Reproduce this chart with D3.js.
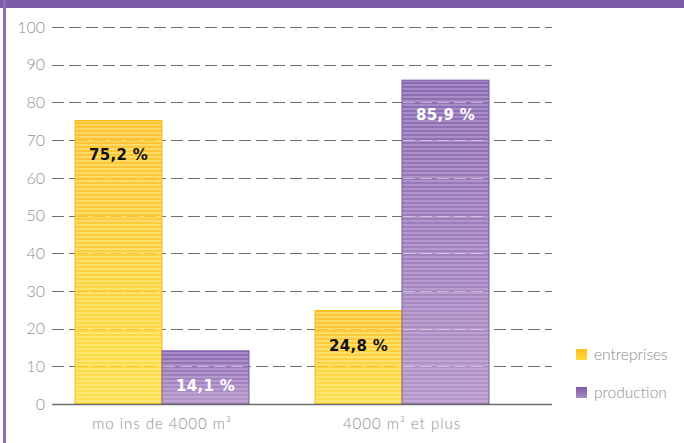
<!DOCTYPE html>
<html>
<head>
<meta charset="utf-8">
<script src="https://cdn.jsdelivr.net/npm/d3@7"></script>
<style>
  body { margin: 0; background: #fff; }
  svg { display: block; }
</style>
</head>
<body>
<div class="container"></div>
<script>
// data
const categories = ["mo ins de 4000 m³", "4000 m³ et plus"];
const seriesNames = ["entreprises", "production"];
const entreprises = [75.2, 24.8];
const production = [14.1, 85.9];
const valueLabels = [["75,2 %", "14,1 %"], ["24,8 %", "85,9 %"]];
const yTicks = [0, 10, 20, 30, 40, 50, 60, 70, 80, 90, 100];

const svgWidth = 684, svgHeight = 443;

const svg = d3.select(".container")
    .append("svg")
    .attr("width", svgWidth)
    .attr("height", svgHeight);

const defs = svg.append("defs");

// gradients + stripes for the bars
function stripeFill(id, topColor, bottomColor, stripeColor, stripeOpacity) {
    const g = defs.append("linearGradient")
        .attr("id", id + "-grad")
        .attr("x1", 0).attr("y1", 0).attr("x2", 0).attr("y2", 1);
    g.append("stop").attr("offset", "0%").attr("stop-color", topColor);
    g.append("stop").attr("offset", "100%").attr("stop-color", bottomColor);

    const p = defs.append("pattern")
        .attr("id", id + "-stripe")
        .attr("patternUnits", "userSpaceOnUse")
        .attr("width", 8).attr("height", 4);
    p.append("rect")
        .attr("width", 8).attr("height", 2)
        .attr("fill", stripeColor)
        .attr("opacity", stripeOpacity);
}
stripeFill("yel", "#fcc232", "#ffe04a", "#fff2a8", 0.45);
stripeFill("pur", "#8a6ab2", "#b596c8", "#d9c8e6", 0.35);

// legend gradients
function legendGrad(id, c1, c2) {
    const g = defs.append("linearGradient")
        .attr("id", id)
        .attr("x1", 0).attr("y1", 0).attr("x2", 0).attr("y2", 1);
    g.append("stop").attr("offset", "0%").attr("stop-color", c1);
    g.append("stop").attr("offset", "100%").attr("stop-color", c2);
}
legendGrad("leg0", "#fcbf20", "#ffd93a");
legendGrad("leg1", "#7e5ca9", "#a98cc3");

// frame
svg.append("rect")
    .attr("x", 0).attr("y", 0)
    .attr("width", svgWidth).attr("height", 8)
    .attr("fill", "#7b5aa6");
svg.append("rect")
    .attr("x", 3).attr("y", 0)
    .attr("width", 3).attr("height", svgHeight)
    .attr("fill", "#8c6cb4");

// scales
const y = d3.scaleLinear()
    .domain([0, 100])
    .range([404, 27]);

const x0 = d3.scaleBand()
    .domain(categories)
    .range([42, 522])
    .padding(0);

const x1 = d3.scaleBand()
    .domain(seriesNames)
    .range([33, 207])
    .padding(0);

const gridLeft = 52, gridRight = 552;

// gridlines (under the bars)
svg.append("g")
    .selectAll("line")
    .data(yTicks.filter(d => d > 0))
    .enter()
    .append("line")
    .attr("x1", gridLeft)
    .attr("x2", gridRight)
    .attr("y1", d => Math.round(y(d)) + 0.5)
    .attr("y2", d => Math.round(y(d)) + 0.5)
    .attr("stroke", "#6d6d6d")
    .attr("stroke-width", 1)
    .attr("stroke-dasharray", "12,5");

// y tick labels
svg.append("g")
    .selectAll("text")
    .data(yTicks)
    .enter()
    .append("text")
    .attr("x", 45)
    .attr("y", d => y(d))
    .attr("dy", "0.36em")
    .attr("text-anchor", "end")
    .attr("font-family", "Lato, 'DejaVu Sans', sans-serif")
    .attr("font-weight", 300)
    .attr("font-size", 16)
    .attr("fill", "#929292")
    .text(d => d);

// bars
const rows = categories.map((c, i) => ({
    cat: c,
    vals: [
        { key: "entreprises", v: entreprises[i], label: valueLabels[i][0] },
        { key: "production", v: production[i], label: valueLabels[i][1] }
    ]
}));

const groups = svg.append("g")
    .selectAll("g")
    .data(rows)
    .enter()
    .append("g")
    .attr("transform", d => `translate(${x0(d.cat)},0)`);

const fillId = { entreprises: "yel", production: "pur" };
const strokeCol = { entreprises: "#f7b912", production: "#7a5aa8" };
const labelCol = { entreprises: "#111", production: "#fff" };

groups.selectAll("rect.base")
    .data(d => d.vals)
    .enter()
    .append("rect")
    .attr("class", "base")
    .attr("x", d => x1(d.key))
    .attr("y", d => y(d.v))
    .attr("width", x1.bandwidth())
    .attr("height", d => y(0) - y(d.v))
    .attr("fill", d => `url(#${fillId[d.key]}-grad)`);

groups.selectAll("rect.stripe")
    .data(d => d.vals)
    .enter()
    .append("rect")
    .attr("class", "stripe")
    .attr("x", d => x1(d.key))
    .attr("y", d => y(d.v))
    .attr("width", x1.bandwidth())
    .attr("height", d => y(0) - y(d.v))
    .attr("fill", d => `url(#${fillId[d.key]}-stripe)`)
    .attr("stroke", d => strokeCol[d.key])
    .attr("stroke-width", 1);

// faint gridlines showing through the bars
groups.each(function(row) {
    const g = d3.select(this);
    row.vals.forEach(d => {
        g.selectAll(null)
            .data(yTicks.filter(t => t > 0 && t < d.v))
            .enter()
            .append("line")
            .attr("x1", x1(d.key) + 1)
            .attr("x2", x1(d.key) + x1.bandwidth() - 1)
            .attr("y1", t => Math.round(y(t)) + 0.5)
            .attr("y2", t => Math.round(y(t)) + 0.5)
            .attr("stroke", d.key === "production" ? "#e6dcef" : "#f2b10c")
            .attr("stroke-opacity", 0.6)
            .attr("stroke-dasharray", "12,5");
    });
});

groups.selectAll("text")
    .data(d => d.vals)
    .enter()
    .append("text")
    .attr("x", d => x1(d.key) + x1.bandwidth() / 2)
    .attr("y", d => y(d.v) + 40)
    .attr("text-anchor", "middle")
    .attr("font-family", "'DejaVu Sans', Verdana, sans-serif")
    .attr("font-weight", "bold")
    .attr("font-size", 15)
    .attr("letter-spacing", 0.3)
    .attr("fill", d => labelCol[d.key])
    .text(d => d.label);

// baseline
svg.append("line")
    .attr("x1", gridLeft)
    .attr("x2", gridRight)
    .attr("y1", Math.round(y(0)) + 0.5)
    .attr("y2", Math.round(y(0)) + 0.5)
    .attr("stroke", "#6d6d6d")
    .attr("stroke-width", 1.5);

// category labels
svg.append("g")
    .selectAll("text")
    .data(categories)
    .enter()
    .append("text")
    .attr("x", d => x0(d) + x0.bandwidth() / 2)
    .attr("y", 429)
    .attr("text-anchor", "middle")
    .attr("font-family", "Lato, 'DejaVu Sans', sans-serif")
    .attr("font-weight", 300)
    .attr("font-size", 15)
    .attr("letter-spacing", 1)
    .attr("fill", "#8c8c8c")
    .text(d => d);

// legend
const legend = svg.append("g")
    .attr("transform", "translate(576,349)");
seriesNames.forEach((name, i) => {
    legend.append("rect")
        .attr("x", 0)
        .attr("y", i * 38)
        .attr("width", 11)
        .attr("height", 11)
        .attr("fill", `url(#leg${i})`);
    legend.append("text")
        .attr("x", 18)
        .attr("y", i * 38 + 11)
        .attr("font-family", "Lato, 'DejaVu Sans', sans-serif")
        .attr("font-weight", 300)
        .attr("font-size", 15.5)
        .attr("fill", "#8c8c8c")
        .text(name);
});
</script>
</body>
</html>
